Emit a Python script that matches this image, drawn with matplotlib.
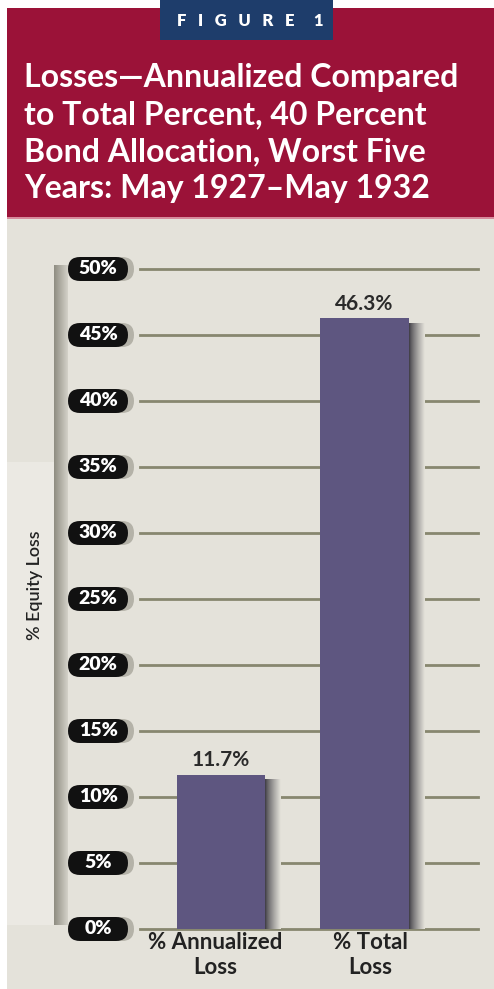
"""Figure 1: annualized vs total equity loss, 40% bond allocation, May 1927-May 1932."""
import numpy as np
import matplotlib
matplotlib.use("Agg")
import matplotlib.pyplot as plt
from matplotlib.patches import FancyBboxPatch, Rectangle
from matplotlib.transforms import IdentityTransform
from matplotlib.colors import to_rgb

categories = ["% Annualized\nLoss", "% Total\nLoss"]
losses = [11.7, 46.3]
value_labels = ["11.7%", "46.3%"]
yticks = [0, 5, 10, 15, 20, 25, 30, 35, 40, 45, 50]
ytick_labels = ["0%", "5%", "10%", "15%", "20%", "25%", "30%", "35%", "40%", "45%", "50%"]
badge = "F   I   G   U   R   E     1"
title_lines = ["Losses\u2014Annualized Compared",
               "to Total Percent, 40 Percent",
               "Bond Allocation, Worst Five",
               "Years: May 1927\u2013May 1932"]
ylabel = "% Equity Loss"

W, H = 494, 989
BG = "#e4e2da"
RED = "#9b1238"
BLUE = "#1e3d6b"
GRID = "#87876f"
BAR = "#5e5680"
FONT = ["Lato", "DejaVu Sans"]

plt.rcParams["font.family"] = FONT

fig = plt.figure(figsize=(W / 100, H / 100), dpi=100)
fig.patch.set_facecolor("white")


def rect(x0, y0, x1, y1, color, z=0):
    # pixel box measured from the top-left corner
    fig.add_artist(Rectangle((x0 / W, 1 - y1 / H), (x1 - x0) / W, (y1 - y0) / H,
                             transform=fig.transFigure, color=color, lw=0, zorder=z))


# panels
rect(7, 217, W, H, BG)
rect(7, 8, W, 217, RED)
rect(7, 217, W, 219, "#d88a9c")
rect(160, 0, 333, 40, BLUE, z=1)
rect(7, 462, 55, 925, "#ebe9e3")

fig.text(250 / W, 1 - 21 / H, badge, color="white", fontsize=12, fontweight="heavy",
         ha="center", va="center", zorder=2)
for i, line in enumerate(title_lines):
    fig.text(24 / W, 1 - (87 + 37 * i) / H, line, color="white", fontsize=23,
             fontweight="bold", ha="left", va="baseline")

fig.text(35 / W, 1 - 585 / H, ylabel, rotation=90, ha="center", va="center",
         fontsize=13, fontweight="semibold", color="#222222")

# left gradient rail
rail = fig.add_axes([54 / W, 1 - 925 / H, 13 / W, 660 / H])
c0, c1 = np.array(to_rgb("#8f8d82")), np.array(to_rgb("#d3d1c8"))
t = np.linspace(0, 1, 32)[None, :, None]
rail.imshow(c0 + (c1 - c0) * t, aspect="auto", extent=[0, 1, 0, 1])
rail.axis("off")

# main plot
ax = fig.add_axes([140 / W, 1 - 929 / H, (478 - 140) / W, (929 - 269) / H])
ax.patch.set_visible(False)
x = np.arange(len(categories))
width = 0.617

for tk in yticks:
    ax.axhline(tk, color=GRID, lw=2, zorder=1, clip_on=False)

ax.bar(x, losses, width=width, color=BAR, zorder=3)

# soft shadow on the right of each bar
dark = np.array(to_rgb("#3f3d44"))
bgc = np.array(to_rgb(BG))
g = np.linspace(0, 1, 32) ** 0.8
grad = (dark + (bgc - dark) * g[:, None])[None, :, :]
for xi, v in zip(x, losses):
    ax.imshow(grad, aspect="auto", zorder=2.5,
              extent=[xi + width / 2, xi + width / 2 + 0.11, 0, v - 0.4])

for xi, v, lbl in zip(x, losses, value_labels):
    ax.annotate(lbl, (xi, v), xytext=(0, 3), textcoords="offset points",
                ha="center", va="bottom", fontsize=15, fontweight="bold", color="#2a2a2a")
# labels sit a touch off-centre in the original
for xi, cat, dx in zip(x, categories, [-4, 4]):
    ax.annotate(cat, (xi, 0), xytext=(dx, -2), textcoords="offset points",
                ha="center", va="top", fontsize=16, fontweight="bold", color="#222222",
                linespacing=1.25, annotation_clip=False)

ax.set_xlim(-0.564, 1.791)
ax.set_ylim(0, 50)
ax.axis("off")

# pill-shaped tick labels
for tk, lbl in zip(yticks, ytick_labels):
    yd = ax.transData.transform((0, tk))[1]
    shadow = FancyBboxPatch((68 + 6, yd - 12), 60, 24, boxstyle="round,pad=0,rounding_size=12",
                            transform=IdentityTransform(), fc="#b4b2a8", ec="none", zorder=4)
    pill = FancyBboxPatch((68, yd - 12), 60, 24, boxstyle="round,pad=0,rounding_size=12",
                          transform=IdentityTransform(), fc="#111111", ec="none", zorder=5)
    fig.add_artist(shadow)
    fig.add_artist(pill)
    fig.text(98 / W, yd / H, lbl, color="white", fontsize=14, fontweight="heavy",
             ha="center", va="center", zorder=6)

fig.savefig("out.png", dpi=100, facecolor=fig.get_facecolor())
